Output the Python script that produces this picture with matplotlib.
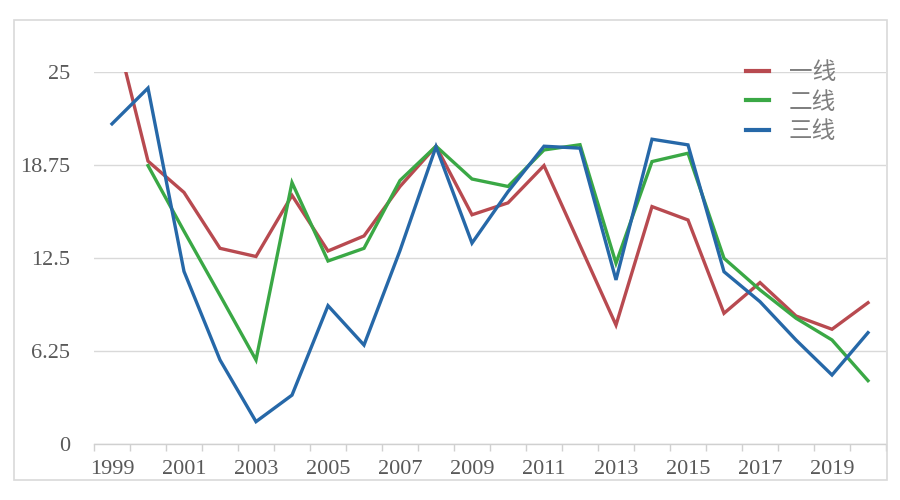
import matplotlib
matplotlib.use("Agg")
import matplotlib.pyplot as plt
from matplotlib.patches import Rectangle
import numpy as np

years = list(range(1999, 2021))
tier1 = [28.7, 19.0, 16.9, 13.15, 12.6, 16.7, 12.97, 13.98, 17.3, 20.0, 15.4, 16.2,
         18.7, 13.35, 8.0, 15.95, 15.05, 8.79, 10.85, 8.61, 7.72, 9.5]
tier2 = [np.nan, 18.7, 14.3, 10.0, 5.66, 17.56, 12.3, 13.15, 17.7, 20.0, 17.8, 17.3,
         19.75, 20.1, 12.15, 18.97, 19.53, 12.48, 10.36, 8.46, 7.0, 4.27]
tier3 = [21.5, 23.9, 11.6, 5.66, 1.52, 3.3, 9.3, 6.66, 13.0, 19.97, 13.5, 16.95,
         20.0, 19.87, 11.03, 20.47, 20.09, 11.58, 9.57, 7.0, 4.65, 7.49]
series_names = ["一线", "二线", "三线"]
colors = ["#B84A50", "#3AA845", "#2668A8"]
yticks = [0, 6.25, 12.5, 18.75, 25]
ytick_labels = ["0", "6.25", "12.5", "18.75", "25"]
xtick_years = list(range(1999, 2021, 2))

fig = plt.figure(figsize=(9, 5), dpi=100)
fig.patch.set_facecolor("white")
ax = fig.add_axes([94/900, 1-444.3/500, (886-94)/900, (444.3-71.7)/500])

for vals, name, c in zip([tier1, tier2, tier3], series_names, colors):
    ax.plot(years, vals, color=c, lw=2.4, label=name, solid_joinstyle="miter")

ax.set_xlim(1998.5, 2020.5)
ax.set_ylim(0, 25)
ax.set_yticks(yticks)
ax.set_yticklabels(ytick_labels)
ax.set_xticks(xtick_years)
ax.set_xticklabels([str(y) for y in xtick_years])
ax.set_xticks(np.arange(1998.5, 2021, 1), minor=True)

for lab in ax.get_xticklabels() + ax.get_yticklabels():
    lab.set_fontfamily("Liberation Serif")
    lab.set_fontsize(16)
    lab.set_color("#595959")

ax.tick_params(axis="y", length=0, pad=17)
ax.tick_params(axis="x", which="major", length=0, pad=11)
ax.tick_params(axis="x", which="minor", length=5, color="#d0d0d0", width=1)
ax.grid(axis="y", color="#d9d9d9", lw=1)
ax.set_axisbelow(True)
for s in ["top", "right", "left"]:
    ax.spines[s].set_visible(False)
ax.spines["bottom"].set_color("#d0d0d0")
ax.spines["bottom"].set_linewidth(1)

leg = ax.legend(loc="upper left", bbox_to_anchor=(0.797, 1.085), frameon=False,
                prop={"family": ["Noto Sans CJK SC", "DejaVu Sans"], "size": 17},
                handlelength=0.95, handletextpad=0.85, labelspacing=0.27)
for t in leg.get_texts():
    t.set_color("#7f7f7f")
for h in leg.get_lines():
    h.set_linewidth(3)

fig.patches.append(Rectangle((14/900, 20/500), (887-14)/900, (480-20)/500,
                             transform=fig.transFigure, fill=False,
                             edgecolor="#d9d9d9", lw=1.2))

fig.savefig("out.png", dpi=100)
